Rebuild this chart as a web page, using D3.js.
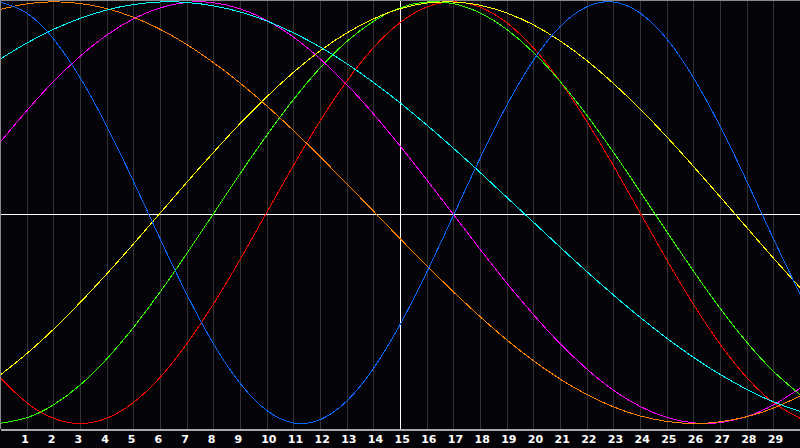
<!DOCTYPE html>
<html>
<head>
<meta charset="utf-8">
<script src="https://cdn.jsdelivr.net/npm/d3@7"></script>
<style>
html,body{margin:0;padding:0;background:#050408;overflow:hidden;}
svg{display:block;}
</style>
</head>
<body>
<svg id="chart" width="800" height="448"></svg>
<script>
// Days shown on the chart (day index 0..30)
const days = [0,1,2,3,4,5,6,7,8,9,10,11,12,13,14,15,16,17,18,19,20,21,22,23,24,25,26,27,28,29,30];
// Tick labels along the bottom
const tickDays = [1,2,3,4,5,6,7,8,9,10,11,12,13,14,15,16,17,18,19,20,21,22,23,24,25,26,27,28,29];
const todayDay = 15;

// Cycle values (-1..1), one per day
const emotional    = [-0.782,-0.901,-0.975,-1.000,-0.975,-0.901,-0.782,-0.623,-0.434,-0.223,0.000,0.223,0.434,0.623,0.782,0.901,0.975,1.000,0.975,0.901,0.782,0.623,0.434,0.223,0.000,-0.223,-0.434,-0.623,-0.782,-0.901,-0.975];
const intellectual = [-0.999,-0.973,-0.912,-0.818,-0.694,-0.545,-0.377,-0.195,-0.006,0.184,0.366,0.536,0.686,0.811,0.907,0.971,0.999,0.991,0.947,0.869,0.760,0.623,0.463,0.287,0.101,-0.089,-0.276,-0.453,-0.614,-0.752,-0.863];
const intuitive    = [0.333,0.483,0.621,0.741,0.842,0.919,0.971,0.997,0.996,0.967,0.912,0.833,0.730,0.608,0.469,0.317,0.156,-0.008,-0.173,-0.333,-0.483,-0.621,-0.741,-0.842,-0.919,-0.971,-0.997,-0.996,-0.967,-0.912,-0.833];
const aesthetic    = [-0.771,-0.669,-0.554,-0.427,-0.291,-0.149,-0.003,0.143,0.285,0.422,0.549,0.665,0.767,0.852,0.919,0.967,0.994,0.999,0.984,0.947,0.891,0.815,0.722,0.613,0.492,0.360,0.220,0.076,-0.070,-0.215,-0.355];
const awareness    = [0.964,0.990,1.000,0.992,0.968,0.927,0.870,0.798,0.712,0.615,0.507,0.390,0.266,0.138,0.008,-0.123,-0.251,-0.375,-0.493,-0.603,-0.702,-0.789,-0.862,-0.921,-0.964,-0.990,-1.000,-0.992,-0.968,-0.927,-0.870];
const spiritual    = [0.728,0.804,0.869,0.921,0.961,0.987,0.999,0.997,0.981,0.952,0.909,0.853,0.786,0.707,0.618,0.521,0.416,0.306,0.191,0.073,-0.045,-0.163,-0.279,-0.390,-0.496,-0.595,-0.686,-0.767,-0.838,-0.897,-0.943];
const physical     = [0.999,0.947,0.825,0.641,0.411,0.150,-0.123,-0.386,-0.621,-0.809,-0.938,-0.997,-0.982,-0.894,-0.740,-0.531,-0.283,-0.014,0.257,0.508,0.722,0.882,0.976,0.999,0.947,0.825,0.641,0.411,0.150,-0.123,-0.386];

const seriesNames  = ["emotional","intellectual","intuitive","aesthetic","awareness","spiritual","physical"];
const seriesValues = [emotional, intellectual, intuitive, aesthetic, awareness, spiritual, physical];
const seriesColors = ["#ff0000","#33ff00","#ff00ff","#ffff00","#ff8000","#00ffff","#0a66ff"];

const W = 800, H = 448;
const plotBottom = 429;

const svg = d3.select("#chart");
svg.append("rect").attr("width", W).attr("height", H).attr("fill", "#050408");

const x = d3.scaleLinear().domain([0, 30]).range([0, W]);
const y = d3.scaleLinear().domain([-1, 1]).range([423.5, 1.8]);

// vertical grid lines
svg.append("g").selectAll("line").data(tickDays).join("line")
  .attr("x1", d => Math.round(x(d)) + 0.5).attr("x2", d => Math.round(x(d)) + 0.5)
  .attr("y1", 0).attr("y2", plotBottom)
  .attr("stroke", d => d === todayDay ? "#ffffff" : "#333333")
  .attr("stroke-width", 1)
  .attr("shape-rendering", "crispEdges");

// zero line
const zeroY = Math.round(y(0)) + 1.5;
svg.append("line")
  .attr("x1", 0).attr("x2", W).attr("y1", zeroY).attr("y2", zeroY)
  .attr("stroke", "#ffffff").attr("stroke-width", 1)
  .attr("shape-rendering", "crispEdges");

// curves
const line = d3.line()
  .x((d, i) => x(days[i]))
  .y(d => y(d))
  .curve(d3.curveNatural);

svg.append("g").selectAll("path").data(seriesValues).join("path")
  .attr("d", d => line(d))
  .attr("fill", "none")
  .attr("stroke", (d, i) => seriesColors[i])
  .attr("stroke-width", 1)
  .attr("shape-rendering", "crispEdges");

// frame: top and left
svg.append("line").attr("x1", 0).attr("x2", W).attr("y1", 0.5).attr("y2", 0.5)
  .attr("stroke", "#8a8a8a").attr("shape-rendering", "crispEdges");
svg.append("line").attr("x1", 0.5).attr("x2", 0.5).attr("y1", 0).attr("y2", plotBottom)
  .attr("stroke", "#8a8a8a").attr("shape-rendering", "crispEdges");

// bottom axis
const axis = d3.axisBottom(x).tickValues(tickDays).tickSize(0).tickPadding(0).tickFormat(d3.format("d"));
const gAxis = svg.append("g").attr("transform", `translate(0,${plotBottom + 0.5})`).call(axis);
gAxis.select(".domain").attr("stroke", "#a8a8a8").attr("stroke-width", 1.5).attr("shape-rendering", "crispEdges");
gAxis.selectAll("text")
  .attr("fill", "#ffffff")
  .attr("font-family", "'DejaVu Sans', Verdana, sans-serif")
  .attr("font-weight", "bold")
  .attr("font-size", "11px")
  .attr("text-anchor", "start")
  .attr("dx", "-6")
  .attr("dy", "0")
  .attr("y", 13);
</script>
</body>
</html>
